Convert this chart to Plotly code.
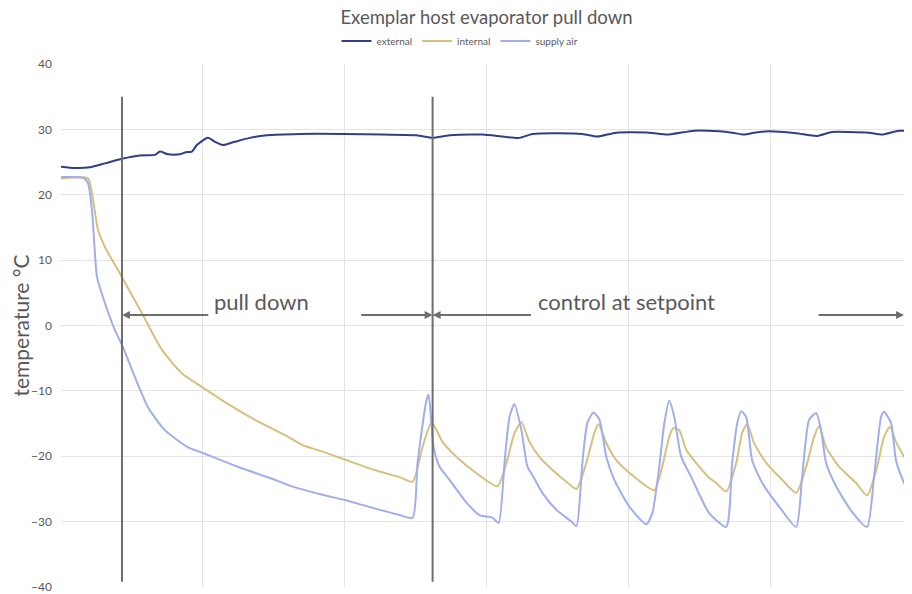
import plotly.graph_objects as go

# time in hours (gridline spacing = 1)
ext_t = [0, 0.099, 0.204, 0.310, 0.430, 0.556, 0.662, 0.697, 0.754, 0.838, 0.880, 0.923, 0.958,
         1.035, 1.085, 1.141, 1.225, 1.331, 1.451, 1.683, 1.993, 2.268, 2.507, 2.620, 2.739, 2.972,
         3.232, 3.324, 3.676, 3.782, 3.915, 4.148, 4.275, 4.465, 4.641, 4.732, 4.817, 4.887, 4.993,
         5.183, 5.331, 5.437, 5.556, 5.697, 5.789, 5.908, 5.993]
ext_v = [24.3, 24.1, 24.2, 24.8, 25.5, 26.0, 26.1, 26.6, 26.2, 26.2, 26.5, 26.6, 27.6,
         28.7, 28.1, 27.6, 28.1, 28.7, 29.1, 29.3, 29.3, 29.2, 29.1, 28.7, 29.1, 29.2,
         28.7, 29.3, 29.3, 28.9, 29.5, 29.5, 29.2, 29.8, 29.7, 29.5, 29.2, 29.5, 29.7,
         29.4, 29.0, 29.6, 29.6, 29.5, 29.2, 29.8, 29.7]

int_t = [0, 0.190, 0.218, 0.261, 0.310, 0.430, 0.570, 0.711, 0.852, 0.993, 1.134, 1.366, 1.599,
         1.704, 1.845, 2.000, 2.211, 2.387, 2.479, 2.549, 2.613, 2.690, 2.789, 2.930, 3.077,
         3.141, 3.197, 3.246, 3.303, 3.373, 3.465, 3.563, 3.634, 3.704, 3.761, 3.789, 3.845,
         3.915, 4.028, 4.183, 4.239, 4.289, 4.317, 4.359, 4.408, 4.500, 4.570, 4.620, 4.690,
         4.761, 4.803, 4.838, 4.887, 4.972, 5.085, 5.183, 5.254, 5.310, 5.345, 5.394, 5.486,
         5.606, 5.683, 5.754, 5.803, 5.845, 5.887, 5.993]
int_v = [22.5, 22.5, 20.3, 14.6, 12.0, 7.4, 1.9, -3.7, -7.3, -9.4, -11.4, -14.4, -17.0,
         -18.3, -19.3, -20.5, -22.1, -23.2, -23.9, -18.6, -14.8, -17.8, -20.1, -22.6, -24.6,
         -21.0, -16.5, -14.8, -17.8, -20.1, -22.1, -23.9, -25.0, -21.0, -16.4, -15.1, -18.0,
         -20.6, -22.9, -25.2, -21.6, -17.0, -15.7, -16.0, -19.0, -21.6, -23.3, -24.1, -25.4,
         -21.0, -16.4, -15.1, -18.0, -21.0, -23.6, -25.6, -21.6, -17.0, -15.4, -18.6, -21.6,
         -24.1, -26.0, -21.6, -17.0, -15.5, -17.8, -21.9]

sup_t = [0, 0.155, 0.190, 0.218, 0.239, 0.254, 0.310, 0.380, 0.437, 0.521, 0.613, 0.732, 0.894,
         1.000, 1.246, 1.507, 1.613, 1.845, 2.000, 2.197, 2.387, 2.479, 2.514, 2.577, 2.592,
         2.627, 2.669, 2.739, 2.859, 2.951, 3.042, 3.085, 3.127, 3.162, 3.197, 3.246, 3.289,
         3.324, 3.394, 3.493, 3.599, 3.634, 3.676, 3.711, 3.754, 3.796, 3.845, 3.901, 4.007,
         4.127, 4.169, 4.218, 4.254, 4.289, 4.324, 4.373, 4.444, 4.570, 4.690, 4.732, 4.768,
         4.796, 4.831, 4.873, 4.944, 5.063, 5.183, 5.225, 5.275, 5.324, 5.359, 5.394, 5.465,
         5.577, 5.683, 5.732, 5.782, 5.803, 5.852, 5.887, 5.944, 5.993]
sup_v = [22.7, 22.6, 21.8, 17.7, 11.1, 7.4, 3.4, -0.7, -3.3, -7.9, -12.5, -16.0, -18.6,
         -19.5, -21.6, -23.6, -24.5, -25.9, -26.7, -27.9, -29.0, -29.4, -21.0, -11.4, -10.6,
         -18.6, -21.6, -23.6, -27.1, -29.0, -29.4, -30.2, -21.0, -14.0, -12.0, -16.0, -21.6,
         -22.9, -25.6, -28.2, -30.0, -30.7, -21.0, -14.9, -13.3, -14.4, -20.1, -23.6, -27.7,
         -30.4, -28.7, -21.6, -14.9, -11.5, -14.0, -20.1, -23.2, -28.7, -30.8, -21.0, -14.9,
         -13.1, -14.0, -20.6, -24.1, -27.7, -30.8, -23.2, -14.4, -13.4, -16.0, -21.0, -24.6,
         -28.5, -30.8, -23.2, -14.0, -13.2, -14.9, -20.6, -24.1, -26.2]

phase_bounds = [0.43, 2.62]
y_ticks = [-40, -30, -20, -10, 0, 10, 20, 30, 40]

FONT = "Lato"
GREY = "#595959"

fig = go.Figure()
fig.add_trace(go.Scatter(x=ext_t, y=ext_v, name="external", mode="lines",
                         line=dict(color="#2F3F86", width=2, shape="spline", smoothing=0.6)))
fig.add_trace(go.Scatter(x=int_t, y=int_v, name="internal", mode="lines",
                         line=dict(color="#D7BF80", width=2, shape="spline", smoothing=0.6)))
fig.add_trace(go.Scatter(x=sup_t, y=sup_v, name="supply air", mode="lines",
                         line=dict(color="#A0AEEA", width=2, shape="spline", smoothing=0.6)))

for xb in phase_bounds:
    fig.add_shape(type="line", x0=xb, x1=xb, y0=35, y1=-39.2, xref="x", yref="y",
                  line=dict(color="#6E6E6E", width=2))

arrows = [(1.049, 0.43), (2.106, 2.62), (3.324, 2.62), (5.331, 5.944)]
for x_from, x_to in arrows:
    fig.add_annotation(x=x_to, y=1.6, ax=x_from, ay=1.6, xref="x", yref="y", axref="x", ayref="y",
                       text="", showarrow=True, arrowhead=2, arrowsize=0.8, arrowwidth=2,
                       arrowcolor="#6E6E6E")

fig.add_annotation(x=1.063, y=3.7, text="pull down", showarrow=False, xanchor="left",
                   font=dict(family=FONT, size=22, color=GREY))
fig.add_annotation(x=3.352, y=3.7, text="control at setpoint", showarrow=False, xanchor="left",
                   font=dict(family=FONT, size=22, color=GREY))

# page body has an 8px margin, so the figure is 8px smaller and shifted
fig.update_layout(
    width=904, height=586,
    margin=dict(l=53, r=0, t=56, b=7, autoexpand=False),
    paper_bgcolor="white", plot_bgcolor="white",
    font=dict(family=FONT, color=GREY),
    title=dict(text="Exemplar host evaporator pull down", x=0.5, xref="paper",
               y=1 - 10 / 586, yref="container", yanchor="middle",
               font=dict(family=FONT, size=18.5, color=GREY)),
    legend=dict(orientation="h", x=0.5, xanchor="center", xref="container",
                y=1 - 33 / 586, yanchor="middle", yref="container",
                font=dict(size=10, color=GREY), itemwidth=30, tracegroupgap=0),
    showlegend=True,
)
fig.update_xaxes(range=[0, 6], dtick=1, showticklabels=False, showgrid=True,
                 gridcolor="#E3E3E3", gridwidth=1, zeroline=False, showline=False,
                 automargin=False)
fig.update_yaxes(range=[-40, 40], tickvals=y_ticks, showgrid=True, gridcolor="#E3E3E3",
                 gridwidth=1, zeroline=False, showline=False, automargin=False,
                 ticklabeloverflow="allow",
                 tickfont=dict(size=12, color=GREY), ticklabelstandoff=8,
                 title=dict(text="temperature °C", font=dict(size=21, color=GREY), standoff=22))

fig.write_html("out.html")
